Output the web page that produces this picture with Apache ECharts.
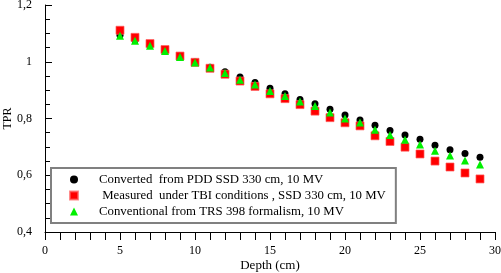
<!DOCTYPE html>
<html>
<head>
<meta charset="utf-8">
<script src="https://cdn.jsdelivr.net/npm/echarts@6/dist/echarts.min.js"></script>
<style>html,body{margin:0;padding:0;background:#fff}#c{width:501px;height:273px}</style>
</head>
<body>
<div id="c"></div>
<script>
var depth = [5,6,7,8,9,10,11,12,13,14,15,16,17,18,19,20,21,22,23,24,25,26,27,28,29];
var converted = [1.093,1.076,1.058,1.039,1.019,0.999,0.981,0.965,0.946,0.927,0.907,0.887,0.867,0.852,0.833,0.812,0.795,0.776,0.758,0.742,0.727,0.706,0.690,0.677,0.663];
var measured = [1.111,1.086,1.064,1.043,1.020,0.998,0.977,0.956,0.932,0.913,0.887,0.870,0.849,0.826,0.803,0.785,0.774,0.739,0.719,0.699,0.675,0.650,0.629,0.608,0.587];
var conventional = [1.092,1.074,1.056,1.038,1.017,0.997,0.980,0.960,0.937,0.920,0.897,0.879,0.860,0.844,0.821,0.800,0.786,0.760,0.742,0.725,0.708,0.686,0.670,0.652,0.638];
var seriesNames = ['Converted  from PDD SSD 330 cm, 10 MV', ' Measured  under TBI conditions , SSD 330 cm, 10 MV', 'Conventional from TRS 398 formalism, 10 MV'];
var xName = 'Depth (cm)';
var yName = 'TPR';

function pairs(ys){ return depth.map(function(d,i){ return [d, ys[i]]; }); }
var font = 'Liberation Serif';
var chart = echarts.init(document.getElementById('c'), null, {renderer:'canvas'});
chart.setOption({
  animation: false,
  backgroundColor: '#fff',
  textStyle: {fontFamily: font, color: '#000'},
  grid: {left: 45, right: 6, top: 5, bottom: 41, containLabel: false, outerBoundsMode: 'none'},
  xAxis: {
    type: 'value', min: 0, max: 30, interval: 5,
    name: xName, nameLocation: 'middle', nameGap: 27, nameMoveOverlap: false,
    nameTextStyle: {fontFamily: font, fontSize: 13, color: '#000'},
    axisLine: {show: true, lineStyle: {color: '#000', width: 1}},
    axisTick: {show: true, length: 8, inside: false, lineStyle: {color: '#000'}},
    minorTick: {show: true, splitNumber: 5, length: 8, lineStyle: {color: '#000'}},
    splitLine: {show: false},
    minorSplitLine: {show: false},
    axisLabel: {fontFamily: font, fontSize: 12, color: '#000', margin: 13}
  },
  yAxis: {
    type: 'value', min: 0.4, max: 1.2, interval: 0.2,
    name: yName, nameLocation: 'middle', nameGap: 31, nameMoveOverlap: false,
    nameTextStyle: {fontFamily: font, fontSize: 12, color: '#000'},
    axisLine: {show: true, onZero: false, lineStyle: {color: '#000', width: 1}},
    axisTick: {show: true, inside: true, length: 7, lineStyle: {color: '#000', width: 1}},
    minorTick: {show: true, splitNumber: 4, length: 5, lineStyle: {color: '#000', width: 1}},
    splitLine: {show: false},
    minorSplitLine: {show: false},
    axisLabel: {fontFamily: font, fontSize: 12, color: '#000', margin: 13,
      formatter: function(v){ return String(Math.round(v*10)/10).replace('.', ','); }}
  },
  legend: {
    orient: 'vertical', left: 51, top: 168,
    padding: [5, 10, 5, 18],
    borderColor: '#808080', borderWidth: 2,
    itemWidth: 8, itemHeight: 8, itemGap: 3,
    textStyle: {fontFamily: font, fontSize: 12.8, color: '#000', padding: [0,0,0,16]},
    data: [
      {name: seriesNames[0], icon: 'circle'},
      {name: seriesNames[1], icon: 'rect'},
      {name: seriesNames[2], icon: 'triangle'}
    ]
  },
  series: [
    {name: seriesNames[0], type: 'scatter', symbol: 'circle', symbolSize: 7,
     itemStyle: {color: '#000', opacity: 1}, data: pairs(converted)},
    {name: seriesNames[1], type: 'scatter', symbol: 'rect', symbolSize: 8,
     itemStyle: {color: '#ff0000', borderColor: 'rgba(255,90,90,0.7)', borderWidth: 1, opacity: 1}, data: pairs(measured)},
    {name: seriesNames[2], type: 'scatter', symbol: 'triangle', symbolSize: 8,
     itemStyle: {color: '#00f000', opacity: 1}, data: pairs(conventional)}
  ]
});
</script>
</body>
</html>
